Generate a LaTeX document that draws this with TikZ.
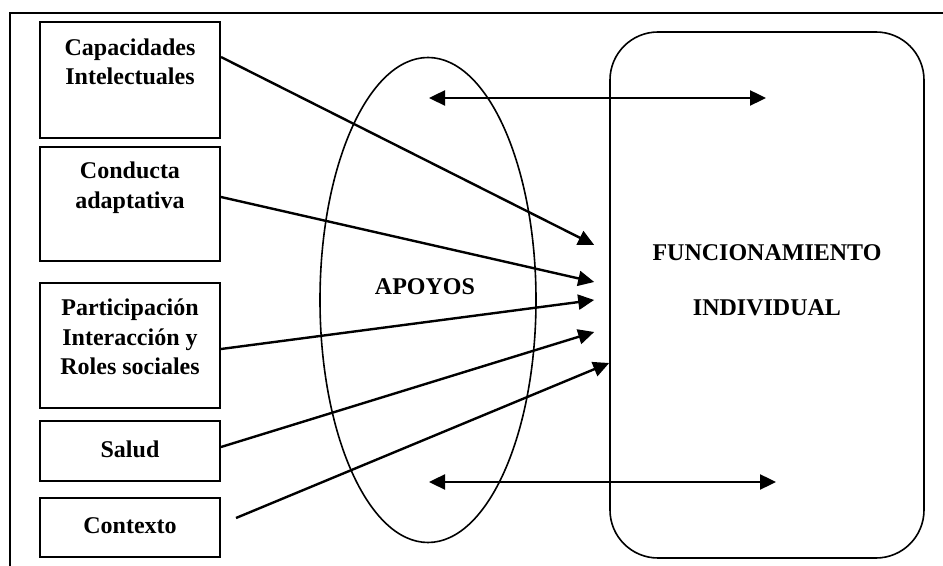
\documentclass[tikz,border=0pt]{standalone}
\usepackage{fontspec}
\setmainfont{Liberation Serif}
\usetikzlibrary{arrows.meta,calc,shapes.geometric}
\begin{document}
\begin{tikzpicture}[x=0.5pt,y=-0.5pt,
  box/.style={draw,line width=1pt,minimum width=90pt,inner sep=0pt},
  lbl/.style={font=\bfseries\fontsize{12}{14.8}\selectfont,align=center,inner sep=0pt},
  tip/.style={-{Triangle[length=8pt,width=7.5pt]}},
  link/.style={line width=1.2pt,tip},
  both/.style={line width=1.2pt,{Triangle[length=8pt,width=7.5pt]}-{Triangle[length=8pt,width=7.5pt]}},
  thinline/.style={line width=0.8pt}]
\useasboundingbox (0,0) rectangle (943,566);
% outer frame (top and left edges)
\draw[thinline] (10,566) -- (10,13) -- (943,13);

% factor boxes
\node[box,minimum height=58pt]   (cap) at (130,80)    {};
\node[box,minimum height=57pt]   (con) at (130,204)   {};
\node[box,minimum height=62.5pt] (par) at (130,345.5) {};
\node[box,minimum height=30pt]   (sal) at (130,451)   {};
\node[box,minimum height=29.5pt] (ctx) at (130,527.5) {};
\node[lbl] (capT) at (130,62)  {Capacidades\\Intelectuales};
\node[lbl] (conT) at (130,188) {Conducta\\adaptativa};
\node[lbl] (parT) at (130,337) {Participación\\Interacción y\\Roles sociales};
\node[lbl] (salT) at (130,449) {Salud};
\node[lbl] (ctxT) at (130,526) {Contexto};

% supports ellipse
\node[draw,thinline,ellipse,minimum width=108pt,minimum height=242.5pt,inner sep=0pt] (apo) at (428,300) {};
\node[lbl] (apoT) at (425,287) {APOYOS};

% individual functioning
\node[draw,thinline,rounded corners=24pt,minimum width=157pt,minimum height=263pt,inner sep=0pt] (fun) at (767,295) {};
\node[lbl] (funT1) at (767,253) {FUNCIONAMIENTO};
\node[lbl] (funT2) at (767,308) {INDIVIDUAL};

% arrow ends near the functioning box
\coordinate (t1) at ($(fun.west)+(-15,-50)$);
\coordinate (t2) at ($(fun.west)+(-15,-13)$);
\coordinate (t3) at ($(fun.west)+(-15,5)$);
\coordinate (t4) at ($(fun.west)+(-15,37)$);
\coordinate (t5) at ($(fun.west)+(0,68)$);
\coordinate (s5) at ($(ctx.east)+(15,-9.5)$);

\draw[link] ($(cap.east)+(0,-23)$) -- (t1);
\draw[link] ($(con.east)+(0,-7)$)  -- (t2);
\draw[link] ($(par.east)+(0,3.5)$) -- (t3);
\draw[link] ($(sal.east)+(0,-4)$)  -- (t4);
\draw[link] (s5) -- (t5);

% two-way arrows across supports and functioning
\coordinate (a1) at (429,98);
\coordinate (a2) at (766,98);
\coordinate (b1) at (429,482);
\coordinate (b2) at (776,482);
\draw[both] (a1) -- (a2);
\draw[both] (b1) -- (b2);
\end{tikzpicture}
\end{document}
